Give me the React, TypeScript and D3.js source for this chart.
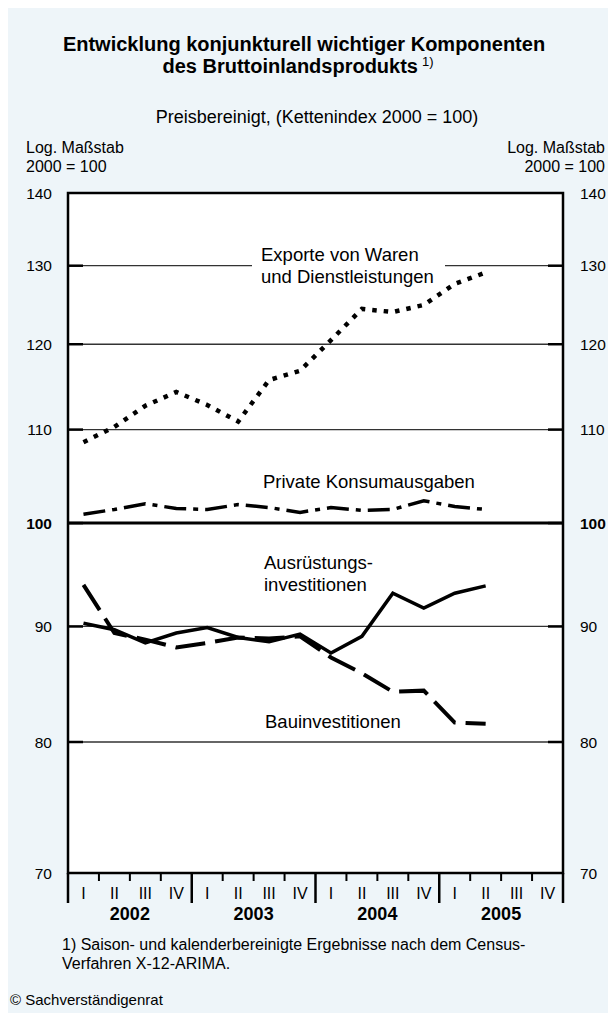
import React from "react";
import * as d3 from "d3";

const quarterLabels = ["I", "II", "III", "IV", "I", "II", "III", "IV", "I", "II", "III", "IV", "I", "II", "III", "IV"];
const years = ["2002", "2003", "2004", "2005"];
const yTicks = [70, 80, 90, 100, 110, 120, 130, 140];
const gridValues = [80, 90, 100, 110, 120, 130];

// 2002 Q1 ... 2005 Q2
const exporte = [108.6, 110.3, 112.7, 114.3, 112.8, 110.9, 115.7, 116.8, 120.5, 124.4, 124.0, 124.9, 127.6, 129.1];
const privKonsum = [100.9, 101.4, 102.0, 101.5, 101.4, 101.9, 101.6, 101.1, 101.6, 101.3, 101.4, 102.3, 101.7, 101.4];
const ausruestung = [90.3, 89.7, 88.5, 89.4, 89.9, 89.0, 88.6, 89.3, 87.6, 89.1, 93.1, 91.7, 93.1, 93.8];
const bau = [93.9, 89.4, 88.8, 88.1, 88.5, 89.0, 88.9, 89.1, 87.2, 85.8, 84.2, 84.3, 81.6, 81.5];

const FONT = "'Liberation Sans', Arial, Helvetica, sans-serif";

export default function App() {
  const W = 600;
  const H = 1005;
  const ox = -8;
  const oy = -8;
  const left = 68, right = 563, top = 193, bottom = 873;

  const x = d3.scaleLinear().domain([0, 16]).range([left, right]);
  const y = d3.scaleLog().domain([70, 140]).range([bottom, top]);

  const line = d3
    .line<number>()
    .x((_, i) => x(i + 0.5))
    .y((d) => y(d));

  const yearTicks = d3.range(0, 17, 4);
  const qTicks = d3.range(1, 16).filter((i) => i % 4 !== 0);

  return (
    <>
      <style>{`html,body{overflow:hidden;}`}</style>
      <svg width={W} height={H} style={{ display: "block", position: "absolute", left: 8, top: 8 }} fontFamily={FONT}>
        <rect x={0} y={0} width={W} height={H} fill="#eef5f9" />
        <g transform={`translate(${ox},${oy})`}>
          {/* Title */}
          <text x={304} y={51} textAnchor="middle" fontSize={20} fontWeight="bold" fill="#000">
            Entwicklung konjunkturell wichtiger Komponenten
          </text>
          <text x={298} y={73} textAnchor="middle" fontSize={20} fontWeight="bold" fill="#000">
            des Bruttoinlandsprodukts
            <tspan fontSize={13} fontWeight="normal" dx={4} dy={-7}>1)</tspan>
          </text>
          <text x={317} y={123} textAnchor="middle" fontSize={18} fill="#000">
            Preisbereinigt, (Kettenindex 2000 = 100)
          </text>
          <text x={26} y={153} fontSize={16} fill="#000">Log. Maßstab</text>
          <text x={26} y={172} fontSize={16} fill="#000">2000 = 100</text>
          <text x={605} y={153} textAnchor="end" fontSize={16} fill="#000">Log. Maßstab</text>
          <text x={605} y={172} textAnchor="end" fontSize={16} fill="#000">2000 = 100</text>

          {/* plot background */}
          <rect x={left} y={top} width={right - left} height={bottom - top} fill="#fff" />

          {/* gridlines */}
          {gridValues.map((v) => (
            <g key={v}>
              <line x1={left} x2={right} y1={y(v)} y2={y(v)} stroke={v === 100 ? "#000" : "#333"} strokeWidth={v === 100 ? 3 : 1.3} />
              <line x1={left} x2={left + 15} y1={y(v)} y2={y(v)} stroke="#000" strokeWidth={2.5} />
              <line x1={right - 15} x2={right} y1={y(v)} y2={y(v)} stroke="#000" strokeWidth={2.5} />
            </g>
          ))}

          {/* y tick labels */}
          {yTicks.map((v) => (
            <g key={v} fontSize={15.5} fontWeight={v === 100 ? "bold" : "normal"}>
              <text x={52} y={y(v) + 5.5} textAnchor="end">{v}</text>
              <text x={580} y={y(v) + 5.5} textAnchor="start">{v}</text>
            </g>
          ))}

          {/* white box behind export label */}
          <rect x={252} y={246} width={193} height={40} fill="#fff" />

          {/* series */}
          <path d={line(bau) || ""} fill="none" stroke="#000" strokeWidth={4} strokeDasharray="30 10" />
          <path d={line(ausruestung) || ""} fill="none" stroke="#000" strokeWidth={3.5} strokeLinejoin="miter" />
          <path d={line(privKonsum) || ""} fill="none" stroke="#000" strokeWidth={3.5} strokeDasharray="22 7 5 7" />
          <path d={line(exporte) || ""} fill="none" stroke="#000" strokeWidth={4.5} strokeDasharray="4.5 7" />

          {/* series labels */}
          <g fontSize={18.5} fill="#000">
            <text x={261} y={261}>Exporte von Waren</text>
            <text x={261} y={283}>und Dienstleistungen</text>
            <text x={263} y={488}>Private Konsumausgaben</text>
            <text x={264} y={569}>Ausrüstungs-</text>
            <text x={264} y={591}>investitionen</text>
            <text x={265} y={728}>Bauinvestitionen</text>
          </g>

          {/* frame */}
          <rect x={left} y={top} width={right - left} height={bottom - top} fill="none" stroke="#000" strokeWidth={2.5} />

          {/* x axis ticks */}
          {yearTicks.map((i) => (
            <line key={"y" + i} x1={x(i)} x2={x(i)} y1={bottom} y2={903} stroke="#000" strokeWidth={2.5} />
          ))}
          {qTicks.map((i) => (
            <line key={"q" + i} x1={x(i)} x2={x(i)} y1={bottom} y2={881} stroke="#000" strokeWidth={2} />
          ))}
          {quarterLabels.map((q, i) => (
            <text key={"ql" + i} x={x(i + 0.5)} y={899} textAnchor="middle" fontSize={16} fill="#000">{q}</text>
          ))}
          {years.map((yr, i) => (
            <text key={yr} x={x(i * 4 + 2)} y={920} textAnchor="middle" fontSize={18} fontWeight="bold" fill="#000">{yr}</text>
          ))}

          {/* footnote */}
          <text x={62} y={950} fontSize={16} fill="#000">1) Saison- und kalenderbereinigte Ergebnisse nach dem Census-</text>
          <text x={62} y={969} fontSize={16} fill="#000">Verfahren X-12-ARIMA.</text>
          <text x={10} y={1005} fontSize={15} fill="#000">© Sachverständigenrat</text>
        </g>
      </svg>
    </>
  );
}
